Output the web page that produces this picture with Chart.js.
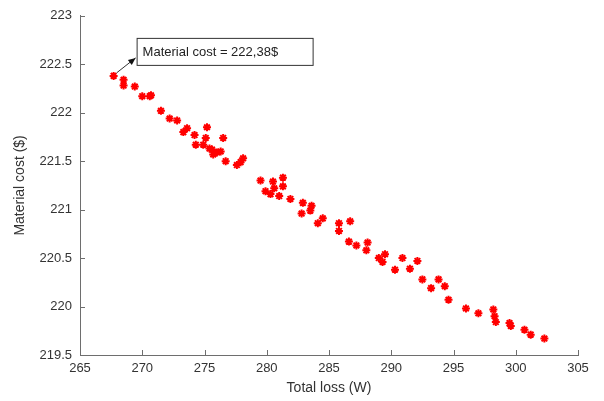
<!DOCTYPE html>
<html>
<head>
<meta charset="utf-8">
<script src="https://cdn.jsdelivr.net/npm/chart.js@4"></script>
<style>
  html, body { margin: 0; padding: 0; background: #fff; }
  #wrap { width: 604px; height: 401px; }
</style>
</head>
<body>
<div id="wrap"><canvas id="paretoChart"></canvas></div>
<script>
// Pareto front points
const totalLoss = [
  267.7, 268.5, 268.5, 269.4, 270.0, 270.6, 270.7, 271.5, 272.2, 272.8,
  273.3, 273.6, 274.2, 274.3, 274.9, 275.2, 275.1, 275.4, 275.6, 275.7,
  276.0, 276.3, 276.5, 276.7, 277.6, 277.9, 278.1, 279.5, 280.5, 281.3,
  280.6, 281.3, 279.9, 280.3, 281.0, 281.9, 282.9, 282.8, 283.5, 283.6,
  284.1, 284.5, 285.8, 286.7, 285.8, 286.6, 287.2, 288.1, 288.0, 289.0,
  289.5, 289.3, 290.3, 290.9, 291.5, 292.1, 292.5, 293.2, 293.8, 294.3,
  294.6, 296.0, 297.0, 298.2, 298.3, 298.4, 299.5, 299.6, 300.7, 301.2,
  302.3
];
const materialCost = [
  222.38, 222.34, 222.28, 222.27, 222.17, 222.17, 222.18, 222.02, 221.94, 221.92,
  221.80, 221.84, 221.77, 221.67, 221.67, 221.85, 221.74, 221.63, 221.62, 221.57,
  221.59, 221.60, 221.74, 221.50, 221.46, 221.49, 221.53, 221.30, 221.29, 221.33,
  221.22, 221.24, 221.19, 221.16, 221.14, 221.11, 221.07, 220.96, 220.99, 221.04,
  220.86, 220.91, 220.86, 220.88, 220.78, 220.67, 220.63, 220.66, 220.58, 220.50,
  220.54, 220.46, 220.38, 220.50, 220.39, 220.47, 220.28, 220.19, 220.28, 220.21,
  220.07, 219.98, 219.93, 219.97, 219.90, 219.84, 219.83, 219.80, 219.76, 219.71,
  219.67
];
const xTicks = [265, 270, 275, 280, 285, 290, 295, 300, 305];
const yTicks = [219.5, 220, 220.5, 221, 221.5, 222, 222.5, 223];
const noteIndex = 0;
const noteLabel = 'Material cost = 222,38$';

const points = totalLoss.map((x, i) => ({ x: x, y: materialCost[i] }));
const axisColor = '#6e6e6e';
const textColor = '#333';
const fontFamily = '"Liberation Sans", Arial, sans-serif';

// small inward tick marks like the original figure
const inwardTicks = {
  id: 'inwardTicks',
  afterDraw(chart) {
    const c = chart.ctx;
    const xs = chart.scales.x, ys = chart.scales.y;
    c.save();
    c.strokeStyle = axisColor;
    c.lineWidth = 1;
    c.beginPath();
    xTicks.forEach(v => {
      const px = Math.round(xs.getPixelForValue(v)) + 0.5;
      c.moveTo(px, ys.bottom);
      c.lineTo(px, ys.bottom - 5);
    });
    yTicks.forEach(v => {
      const py = Math.round(ys.getPixelForValue(v)) + 0.5;
      c.moveTo(xs.left, py);
      c.lineTo(xs.left + 5, py);
    });
    c.stroke();
    c.restore();
  }
};

// text box with arrow pointing at the cheapest-loss point
const noteBox = {
  id: 'noteBox',
  afterDatasetsDraw(chart) {
    const c = chart.ctx;
    const px = chart.scales.x.getPixelForValue(totalLoss[noteIndex]);
    const py = chart.scales.y.getPixelForValue(materialCost[noteIndex]);
    const bx = px + 23, by = py - 38, bw = 176, bh = 27;
    c.save();
    c.fillStyle = '#fff';
    c.fillRect(bx, by, bw, bh);
    c.strokeStyle = '#333';
    c.lineWidth = 1;
    c.strokeRect(bx + 0.5, by + 0.5, bw, bh);
    c.fillStyle = '#222';
    c.font = '13px ' + fontFamily;
    c.textBaseline = 'middle';
    c.fillText(noteLabel, bx + 6, by + bh / 2 + 1);
    // arrow
    const sx = px + 3, sy = py - 3, ex = bx - 1, ey = by + 20;
    c.beginPath();
    c.moveTo(sx, sy);
    c.lineTo(ex, ey);
    c.stroke();
    const a = Math.atan2(ey - sy, ex - sx);
    c.beginPath();
    c.moveTo(ex, ey);
    c.lineTo(ex - 8 * Math.cos(a - 0.4), ey - 8 * Math.sin(a - 0.4));
    c.lineTo(ex - 8 * Math.cos(a + 0.4), ey - 8 * Math.sin(a + 0.4));
    c.closePath();
    c.fillStyle = '#111';
    c.fill();
    c.restore();
  }
};

const ctx = document.getElementById('paretoChart').getContext('2d');
new Chart(ctx, {
  type: 'scatter',
  data: {
    datasets: [{
      data: points,
      pointStyle: 'star',
      radius: 4,
      borderWidth: 2,
      borderColor: '#ff0000',
      backgroundColor: '#ff0000'
    }]
  },
  options: {
    responsive: true,
    maintainAspectRatio: false,
    animation: false,
    layout: { padding: { top: 13, right: 26, left: 0, bottom: 0 } },
    plugins: {
      legend: { display: false },
      tooltip: { enabled: false }
    },
    scales: {
      x: {
        type: 'linear',
        min: 265,
        max: 305,
        afterBuildTicks: s => { s.ticks = xTicks.map(v => ({ value: v })); },
        afterFit: s => { s.height = 46; },
        grid: { drawOnChartArea: false, drawTicks: false },
        border: { color: axisColor, width: 1 },
        ticks: {
          color: textColor, padding: 6, font: { size: 13, family: fontFamily },
          callback: v => String(v)
        },
        title: {
          display: true,
          text: 'Total loss (W)',
          color: textColor,
          font: { size: 14, family: fontFamily },
          padding: { top: 0, bottom: 4 }
        }
      },
      y: {
        type: 'linear',
        min: 219.5,
        max: 223,
        afterBuildTicks: s => { s.ticks = yTicks.map(v => ({ value: v })); },
        afterFit: s => { s.width = 80; },
        grid: { drawOnChartArea: false, drawTicks: false },
        border: { color: axisColor, width: 1 },
        ticks: {
          color: textColor, padding: 8, font: { size: 13, family: fontFamily },
          callback: v => String(v)
        },
        title: {
          display: true,
          text: 'Material cost ($)',
          color: textColor,
          font: { size: 14, family: fontFamily },
          padding: { top: 12, bottom: 0 }
        }
      }
    }
  },
  plugins: [inwardTicks, noteBox]
});
</script>
</body>
</html>
